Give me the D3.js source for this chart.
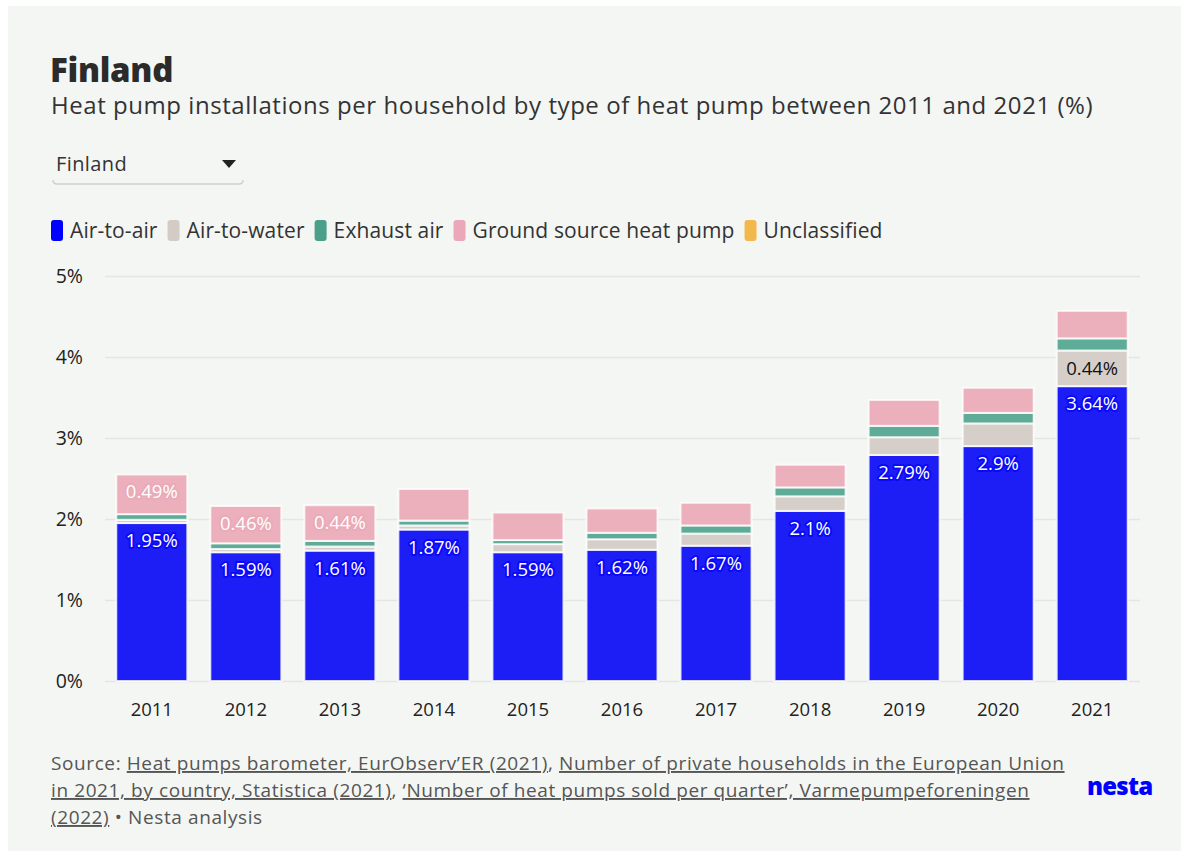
<!DOCTYPE html>
<html>
<head>
<meta charset="utf-8">
<script src="https://cdn.jsdelivr.net/npm/d3@7"></script>
<style>
  html, body { margin: 0; padding: 0; background: #ffffff; }
  svg { display: block; font-family: "Open Sans", "Noto Sans", sans-serif; }
</style>
</head>
<body>
<svg id="chart" width="1189" height="857"></svg>
<script>
// Heat pump installations per household in Finland, by type (%)
const years = [2011, 2012, 2013, 2014, 2015, 2016, 2017, 2018, 2019, 2020, 2021];
const airToAir     = [1.95, 1.59, 1.61, 1.87, 1.59, 1.62, 1.67, 2.10, 2.79, 2.90, 3.64];
const airToWater   = [0.04, 0.04, 0.05, 0.05, 0.10, 0.13, 0.15, 0.18, 0.22, 0.28, 0.44];
const exhaustAir   = [0.07, 0.07, 0.07, 0.06, 0.05, 0.08, 0.10, 0.11, 0.14, 0.13, 0.15];
const groundSource = [0.49, 0.46, 0.44, 0.39, 0.34, 0.30, 0.28, 0.28, 0.32, 0.31, 0.34];
const unclassified = [0, 0, 0, 0, 0, 0, 0, 0, 0, 0, 0];

const seriesNames = ["Air-to-air", "Air-to-water", "Exhaust air", "Ground source heat pump", "Unclassified"];
const seriesValues = [airToAir, airToWater, exhaustAir, groundSource, unclassified];
const legendColors = ["#0000ff", "#d3cbc4", "#4b9f8b", "#eba8b8", "#f2b84b"];
const barColors    = ["#1d1df5", "#d6cfc9", "#5eab98", "#ecafbc", "#f2b84b"];
const haloColors   = ["#0a0af8", "#d6cfc9", "#5eab98", "#ebaab8", "#f2b84b"];
const labelColors  = ["#ffffff", "#111111", "#ffffff", "#ffffff", "#111111"];
const yTicks = [0, 1, 2, 3, 4, 5];

const rows = years.map((y, i) => {
  const r = { year: y };
  seriesNames.forEach((n, k) => r[n] = seriesValues[k][i]);
  return r;
});

const svg = d3.select("#chart");

// panel background
svg.append("rect").attr("x", 8).attr("y", 6).attr("width", 1173).attr("height", 845)
  .attr("fill", "#f4f6f3");

// title + subtitle
svg.append("text").attr("x", 50).attr("y", 82)
  .attr("font-size", 33).attr("font-weight", 800).attr("fill", "#2b2b2b")
  .attr("letter-spacing", -0.3)
  .text("Finland");
svg.append("text").attr("x", 51).attr("y", 114)
  .attr("font-size", 24).attr("fill", "#333").attr("letter-spacing", 0.55)
  .text("Heat pump installations per household by type of heat pump between 2011 and 2021 (%)");

// country selector
const sel = svg.append("g");
sel.append("text").attr("x", 56).attr("y", 171).attr("font-size", 20).attr("letter-spacing", 0.4)
  .attr("fill", "#333").text("Finland");
sel.append("path").attr("d", "M222,160 L236,160 L229,168 Z").attr("fill", "#222");
sel.append("path").attr("d", "M53,180 Q53,184 57,184 L239,184 Q243,184 243,180")
  .attr("fill", "none").attr("stroke", "#cfd1ce").attr("stroke-width", 1.5);

// legend
const legend = svg.append("g");
let lx = 51;
seriesNames.forEach((n, k) => {
  legend.append("rect").attr("x", lx).attr("y", 220).attr("width", 12).attr("height", 21).attr("rx", 3)
    .attr("fill", legendColors[k]);
  const t = legend.append("text").attr("x", lx + 19).attr("y", 237.5)
    .attr("font-size", 21).attr("letter-spacing", 0.12).attr("fill", "#333").text(n);
  lx += 19 + t.node().getComputedTextLength() + 10;
});

// scales
const x = d3.scaleBand().domain(years).range([105, 1139]).paddingInner(0.245).paddingOuter(0.12);
const y = d3.scaleLinear().domain([0, 5]).range([681, 276]);

// grid + y axis
const yAxis = svg.append("g").attr("transform", "translate(105,0)")
  .call(d3.axisLeft(y).tickValues(yTicks).tickSize(-1035).tickFormat(d => d + "%"));
yAxis.select(".domain").remove();
yAxis.selectAll(".tick line").attr("stroke", "#e4e6e2").attr("stroke-width", 1.5);
yAxis.selectAll(".tick text").attr("x", -22).attr("dy", "0.35em")
  .attr("font-size", 19.5).attr("fill", "#222").attr("font-family", "'Open Sans', 'Noto Sans', sans-serif");

// x axis
const xAxis = svg.append("g").attr("transform", "translate(0,681)")
  .call(d3.axisBottom(x).tickSize(0).tickPadding(22));
xAxis.select(".domain").remove();
xAxis.selectAll(".tick text").attr("font-size", 18.5).attr("fill", "#222").attr("dy", "0.71em")
  .attr("font-family", "'Open Sans', 'Noto Sans', sans-serif");

// stacked bars
const stacked = d3.stack().keys(seriesNames)(rows);
const layers = svg.append("g").selectAll("g").data(stacked).join("g")
  .attr("fill", (d, k) => barColors[k]);
layers.selectAll("rect").data(d => d).join("rect")
  .attr("x", d => x(d.data.year))
  .attr("width", x.bandwidth())
  .attr("y", d => y(d[1]))
  .attr("height", d => Math.max(0, y(d[0]) - y(d[1])))
  .attr("stroke", "#ffffff").attr("stroke-width", 2).attr("stroke-opacity", 0.8);

// value labels on segments tall enough to hold them
const labelG = svg.append("g").attr("text-anchor", "middle");
stacked.forEach((layer, k) => {
  layer.forEach(d => {
    const v = d[1] - d[0];
    if (v < 0.4) return;
    labelG.append("text")
      .attr("x", x(d.data.year) + x.bandwidth() / 2)
      .attr("y", y(d[1]) + 24)
      .attr("font-size", 18.5)
      .attr("fill", labelColors[k])
      .attr("stroke", haloColors[k]).attr("stroke-width", 4).attr("stroke-linejoin", "round")
      .attr("paint-order", "stroke")
      .text(d3.format(".3~")(v) + "%");
  });
});

// source note
const src = svg.append("g").attr("font-size", 19).attr("fill", "#555").attr("letter-spacing", 0.6);
const line1 = src.append("text").attr("x", 51).attr("y", 770);
line1.append("tspan").text("Source: ");
line1.append("tspan").attr("text-decoration", "underline").text("Heat pumps barometer, EurObserv’ER (2021)");
line1.append("tspan").text(", ");
line1.append("tspan").attr("text-decoration", "underline").text("Number of private households in the European Union");
const line2 = src.append("text").attr("x", 51).attr("y", 797);
line2.append("tspan").attr("text-decoration", "underline").text("in 2021, by country, Statistica (2021)");
line2.append("tspan").text(", ");
line2.append("tspan").attr("text-decoration", "underline").text("‘Number of heat pumps sold per quarter’, Varmepumpeforeningen");
const line3 = src.append("text").attr("x", 51).attr("y", 824);
line3.append("tspan").attr("text-decoration", "underline").text("(2022)");
line3.append("tspan").text(" • Nesta analysis");

// logo
svg.append("text").attr("x", 1087).attr("y", 795).attr("font-size", 24).attr("font-weight", 800)
  .attr("fill", "#0000ff").attr("letter-spacing", -0.8).text("nesta");
</script>
</body>
</html>
